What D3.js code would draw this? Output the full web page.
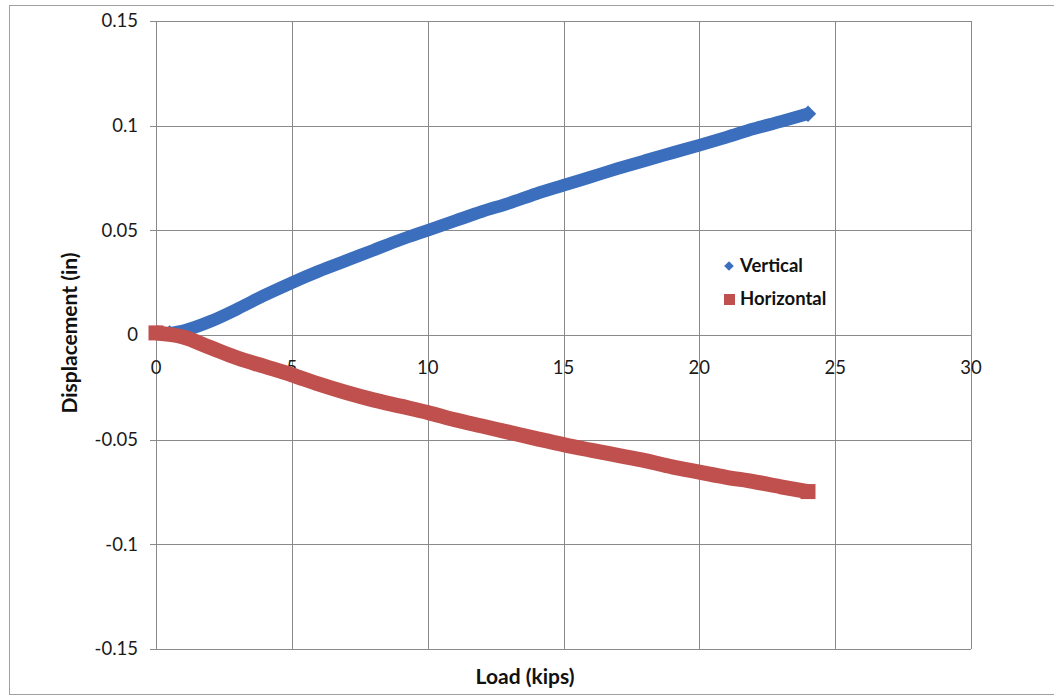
<!DOCTYPE html>
<html><head><meta charset="utf-8">
<script src="https://cdn.jsdelivr.net/npm/d3@7"></script>
<style>body{margin:0;background:#fff;} svg{display:block;font-family:Lato,"Open Sans",sans-serif;}</style>
</head><body>
<svg id="c" width="1054" height="698"></svg>
<script>
const verticalLoad = [0.5,1,2,3,4,5,6,7,8,9,10,11,12,13,14,15,16,17,18,19,20,21,22,23,24];
const verticalDisp = [0.0008,0.002,0.0065,0.0125,0.019,0.025,0.0305,0.0355,0.0405,0.0455,0.050,0.0545,0.059,0.063,0.0675,0.0715,0.0755,0.0795,0.0833,0.087,0.0907,0.0945,0.0985,0.102,0.1057];
const horizontalLoad = [0,1,2,3,4,5,6,7,8,9,10,11,12,13,14,15,16,17,18,19,20,21,22,23,24];
const horizontalDisp = [0.001,-0.001,-0.006,-0.011,-0.015,-0.019,-0.0235,-0.0275,-0.031,-0.034,-0.037,-0.0405,-0.0435,-0.0465,-0.0495,-0.0524,-0.055,-0.0575,-0.060,-0.063,-0.0655,-0.068,-0.070,-0.0725,-0.0748];
const xTicks = [0,5,10,15,20,25,30];
const yTicks = [-0.15,-0.1,-0.05,0,0.05,0.1,0.15];
const seriesNames = ["Vertical","Horizontal"];
const seriesColors = ["#3b6fbd","#c0504d"];

const svg = d3.select("#c");
const L=156, R=971, T=21, B=649;
const x = d3.scaleLinear().domain([0,30]).range([L,R]);
const y = d3.scaleLinear().domain([-0.15,0.15]).range([B,T]);
const grid="#8a8a8a";

// outer frame
svg.append("rect").attr("x",9.5).attr("y",5.5).attr("width",1060).attr("height",689).attr("fill","none").attr("stroke","#a0a0a0");

// grid
svg.append("g").selectAll("line").data(yTicks).join("line")
  .attr("x1",L-6).attr("x2",R).attr("y1",d=>Math.round(y(d))+0.5).attr("y2",d=>Math.round(y(d))+0.5)
  .attr("stroke",grid).attr("stroke-width",1);
svg.append("g").selectAll("line").data(xTicks).join("line")
  .attr("y1",T).attr("y2",B).attr("x1",d=>Math.round(x(d))+0.5).attr("x2",d=>Math.round(x(d))+0.5)
  .attr("stroke",grid).attr("stroke-width",1);

// y tick labels
svg.append("g").selectAll("text").data(yTicks).join("text")
  .attr("x",138).attr("y",d=>y(d)).attr("dy","0.35em").attr("text-anchor","end")
  .attr("font-size",18.5).attr("fill","#1a1a1a").text(d=>String(+d.toFixed(2)));
// x tick labels (axis crosses at 0)
svg.append("g").selectAll("text").data(xTicks).join("text")
  .attr("x",d=>x(d)).attr("y",y(0)+39).attr("text-anchor","middle")
  .attr("font-size",18.5).attr("fill","#1a1a1a").text(d=>d);

// series
const vData = verticalLoad.map((l,i)=>[l,verticalDisp[i]]);
const hData = horizontalLoad.map((l,i)=>[l,horizontalDisp[i]]);
const line = d3.line().x(d=>x(d[0])).y(d=>y(d[1])).curve(d3.curveMonotoneX);

svg.append("path").datum(vData).attr("d",line).attr("fill","none").attr("stroke",seriesColors[0]).attr("stroke-width",12.5);
svg.append("g").selectAll("path").data([vData[0],vData[vData.length-1]]).join("path")
  .attr("transform",d=>`translate(${x(d[0])},${y(d[1])})`)
  .attr("d",d3.symbol(d3.symbolDiamond2,170)).attr("fill",seriesColors[0]);

svg.append("path").datum(hData).attr("d",line).attr("fill","none").attr("stroke",seriesColors[1]).attr("stroke-width",15);
svg.append("g").selectAll("rect").data([hData[0],hData[hData.length-1]]).join("rect")
  .attr("x",d=>x(d[0])-7.5).attr("y",d=>y(d[1])-7.5).attr("width",15).attr("height",15).attr("fill",seriesColors[1]);

// axis titles
svg.append("text").attr("x",525).attr("y",684).attr("text-anchor","middle")
  .attr("font-size",21).attr("font-weight","bold").attr("fill","#111").text("Load (kips)");
svg.append("text").attr("transform","translate(77,333) rotate(-90)").attr("text-anchor","middle")
  .attr("font-size",21).attr("font-weight","bold").attr("fill","#111").text("Displacement (in)");

// legend
const lg = svg.append("g");
lg.append("path").attr("transform","translate(729,266)").attr("d",d3.symbol(d3.symbolDiamond2,60)).attr("fill",seriesColors[0]);
lg.append("rect").attr("x",724).attr("y",294).attr("width",11).attr("height",11).attr("fill",seriesColors[1]);
lg.selectAll("text").data(seriesNames).join("text")
  .attr("x",740).attr("y",(d,i)=>266+i*33).attr("dy","0.35em")
  .attr("font-size",18.5).attr("font-weight","bold").attr("fill","#111").text(d=>d);
</script>
</body></html>
